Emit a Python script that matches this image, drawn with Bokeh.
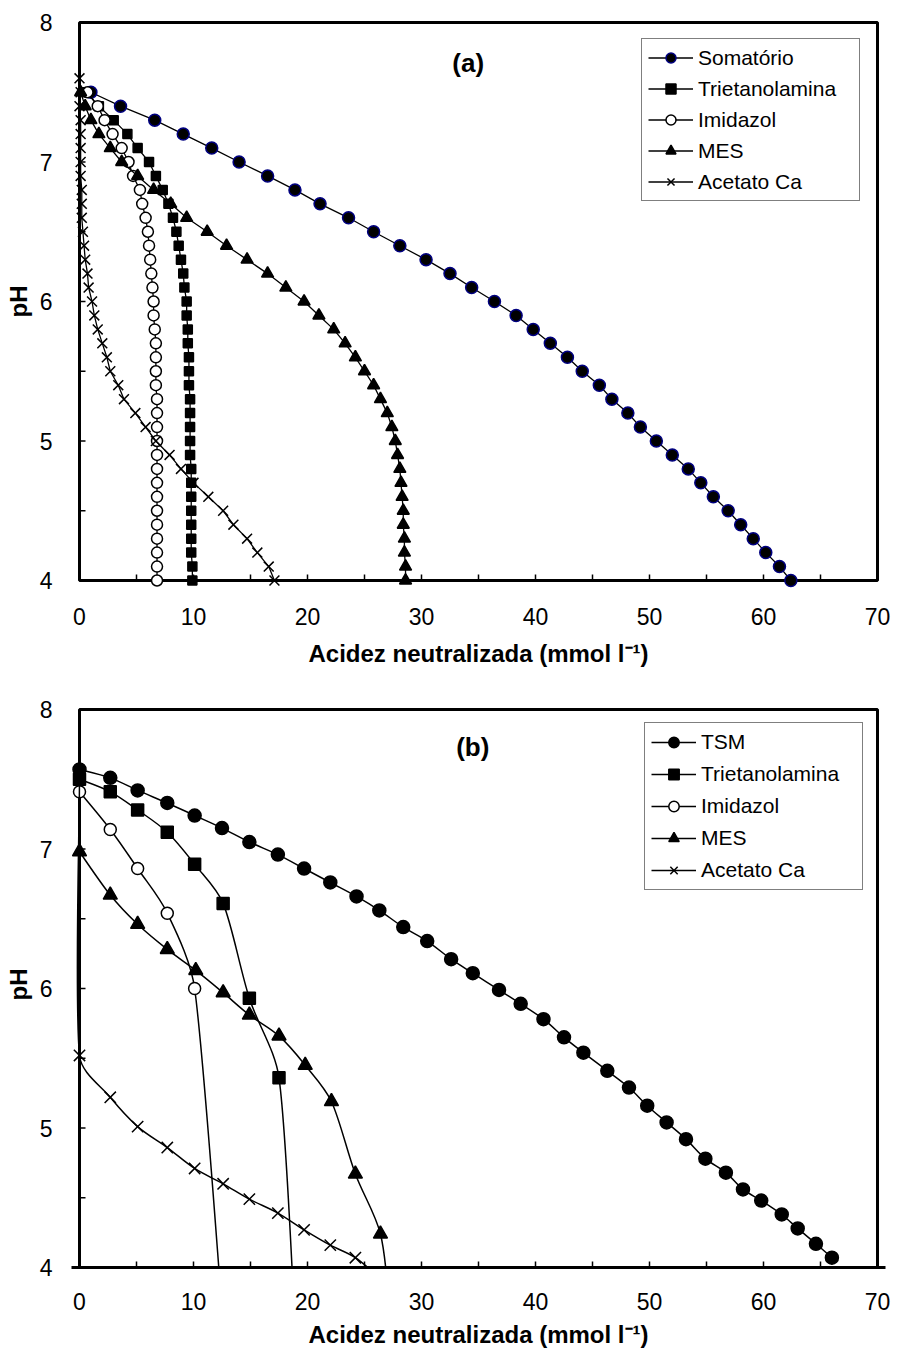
from bokeh.plotting import figure
from bokeh.layouts import column
from bokeh.models import Range1d, Legend, LegendItem, Label, FixedTicker
from bokeh.embed import file_html
from bokeh.resources import INLINE

FONT = "Liberation Sans"

# ---------------- Panel (a): buffers titrated one by one and their sum ----------------
ph_a = [7.5, 7.4, 7.3, 7.2, 7.1, 7.0, 6.9, 6.8, 6.7, 6.6, 6.5, 6.4, 6.3, 6.2, 6.1, 6.0,
        5.9, 5.8, 5.7, 5.6, 5.5, 5.4, 5.3, 5.2, 5.1, 5.0, 4.9, 4.8, 4.7, 4.6, 4.5, 4.4,
        4.3, 4.2, 4.1, 4.0]
somatorio_a = [1.0, 3.6, 6.6, 9.1, 11.6, 14.0, 16.5, 18.9, 21.1, 23.6, 25.8, 28.1, 30.4,
               32.5, 34.4, 36.4, 38.3, 39.8, 41.3, 42.8, 44.1, 45.6, 46.7, 48.1, 49.2,
               50.6, 52.0, 53.4, 54.5, 55.6, 56.9, 58.0, 59.1, 60.2, 61.4, 62.4]
trietanolamina_a = [0.6, 1.7, 3.0, 4.2, 5.1, 6.1, 6.7, 7.3, 7.8, 8.2, 8.5, 8.7, 8.9, 9.1,
                    9.2, 9.4, 9.4, 9.5, 9.5, 9.6, 9.6, 9.6, 9.7, 9.7, 9.7, 9.7, 9.7, 9.8,
                    9.8, 9.8, 9.8, 9.8, 9.8, 9.8, 9.9, 9.9]
imidazol_a = [0.7, 1.6, 2.2, 2.9, 3.7, 4.3, 4.7, 5.3, 5.5, 5.8, 6.0, 6.1, 6.2, 6.3, 6.4,
              6.5, 6.5, 6.6, 6.7, 6.7, 6.7, 6.7, 6.8, 6.8, 6.8, 6.8, 6.8, 6.8, 6.8, 6.8,
              6.8, 6.8, 6.8, 6.8, 6.8, 6.8]
mes_a = [0.1, 0.5, 1.0, 1.7, 2.7, 3.7, 5.1, 6.5, 8.0, 9.4, 11.2, 12.9, 14.7, 16.5, 18.1,
         19.7, 21.0, 22.3, 23.3, 24.2, 25.0, 25.8, 26.4, 27.0, 27.4, 27.7, 27.9, 28.1,
         28.2, 28.3, 28.4, 28.4, 28.5, 28.5, 28.6, 28.6]
ph_acetato_a = [7.6, 7.5, 7.4, 7.3, 7.2, 7.1, 7.0, 6.9, 6.8, 6.7, 6.6, 6.5, 6.4, 6.3, 6.2,
                6.1, 6.0, 5.9, 5.8, 5.7, 5.6, 5.5, 5.4, 5.3, 5.2, 5.1, 5.0, 4.9, 4.8, 4.7,
                4.6, 4.5, 4.4, 4.3, 4.2, 4.1, 4.0]
acetato_a = [0.0, 0.1, 0.0, 0.1, 0.1, 0.1, 0.1, 0.1, 0.2, 0.2, 0.2, 0.3, 0.4, 0.5, 0.7,
             0.8, 1.1, 1.3, 1.6, 2.0, 2.4, 2.7, 3.4, 3.9, 4.9, 5.8, 6.7, 7.9, 8.9, 10.0,
             11.3, 12.6, 13.5, 14.7, 15.6, 16.6, 17.1]

# ---------------- Panel (b): titration of the TSM mixture and its components ----------------
tsm_x = [0.0, 2.7, 5.1, 7.7, 10.1, 12.5, 14.9, 17.4, 19.7, 22.0, 24.3, 26.3, 28.4, 30.5,
         32.6, 34.5, 36.8, 38.7, 40.7, 42.5, 44.2, 46.3, 48.2, 49.8, 51.5, 53.2, 54.9,
         56.7, 58.2, 59.8, 61.6, 63.0, 64.6, 66.0]
tsm_ph = [7.57, 7.51, 7.42, 7.33, 7.24, 7.15, 7.05, 6.96, 6.86, 6.76, 6.66, 6.56, 6.44,
          6.34, 6.21, 6.11, 5.99, 5.89, 5.78, 5.65, 5.54, 5.41, 5.29, 5.16, 5.04, 4.92,
          4.78, 4.68, 4.56, 4.48, 4.38, 4.28, 4.17, 4.07]
trietanolamina_b_x = [0.0, 2.7, 5.1, 7.7, 10.1, 12.6, 14.9, 17.5, 18.9]
trietanolamina_b_ph = [7.50, 7.41, 7.28, 7.12, 6.89, 6.61, 5.93, 5.36, 3.60]
imidazol_b_x = [0.0, 2.7, 5.1, 7.7, 10.1, 12.6]
imidazol_b_ph = [7.41, 7.14, 6.86, 6.54, 6.00, 3.60]
mes_b_x = [0.0, 2.7, 5.1, 7.7, 10.2, 12.6, 14.9, 17.5, 19.8, 22.1, 24.2, 26.4, 27.2]
mes_b_ph = [6.98, 6.67, 6.46, 6.28, 6.13, 5.97, 5.81, 5.66, 5.45, 5.19, 4.67, 4.24, 3.70]
acetato_b_x = [0.0, 0.0, 2.7, 5.1, 7.7, 10.1, 12.6, 14.9, 17.4, 19.7, 22.0, 24.2, 27.0]
acetato_b_ph = [7.50, 5.52, 5.22, 5.01, 4.86, 4.71, 4.60, 4.49, 4.39, 4.27, 4.16, 4.07, 3.88]

# Axis limits and ticks
X_MIN, X_MAX = 0, 70
Y_MIN, Y_MAX = 4, 8
X_TICKS = [0, 10, 20, 30, 40, 50, 60, 70]
X_MINOR = [5, 15, 25, 35, 45, 55, 65]
Y_TICKS = [4, 5, 6, 7, 8]
Y_MINOR = [4.5, 5.5, 6.5, 7.5]

X_LABEL = "Acidez neutralizada (mmol l\u207b\u00b9)"
Y_LABEL = "pH"

BOX_W, BOX_H = 798, 558   # pixel size of the axes box
PAD = 8                   # room around the box so edge markers are not cut
TICK = 6                  # inward tick length, px
UX = (X_MAX - X_MIN) / BOX_W   # data units per pixel
UY = (Y_MAX - Y_MIN) / BOX_H


def make_panel(pad_bottom, border_top, border_bottom, tick_standoff, title_standoff):
    y_lo = Y_MIN - PAD * UY if pad_bottom else Y_MIN
    p = figure(
        frame_width=BOX_W + 2 * PAD,
        frame_height=BOX_H + PAD + (PAD if pad_bottom else 0),
        x_range=Range1d(X_MIN - PAD * UX, X_MAX + PAD * UX),
        y_range=Range1d(y_lo, Y_MAX + PAD * UY),
        output_backend="svg", toolbar_location=None,
        min_border_left=71, min_border_right=13,
        min_border_top=border_top, min_border_bottom=border_bottom,
        background_fill_color="white", border_fill_color="white",
    )
    p.outline_line_color = None
    p.grid.visible = False

    # the axes box
    p.quad(left=[X_MIN], right=[X_MAX], bottom=[Y_MIN], top=[Y_MAX],
           fill_color=None, line_color="black", line_width=3)

    # inward tick marks along the bottom and left sides of the box
    xt = X_TICKS + X_MINOR
    yt = Y_TICKS + Y_MINOR
    p.segment(x0=xt, y0=[Y_MIN] * len(xt), x1=xt, y1=[Y_MIN + TICK * UY] * len(xt),
              line_color="black", line_width=1.5)
    p.segment(x0=[X_MIN] * len(yt), y0=yt, x1=[X_MIN + TICK * UX] * len(yt), y1=yt,
              line_color="black", line_width=1.5)

    xa, ya = p.xaxis[0], p.yaxis[0]
    xa.ticker = FixedTicker(ticks=X_TICKS, minor_ticks=[])
    ya.ticker = FixedTicker(ticks=Y_TICKS, minor_ticks=[])
    for ax in (xa, ya):
        ax.axis_line_color = None
        ax.major_tick_line_color = None
        ax.minor_tick_line_color = None
        ax.major_tick_in = 0
        ax.major_tick_out = 0
        ax.minor_tick_in = 0
        ax.minor_tick_out = 0
        ax.major_label_text_font = FONT
        ax.major_label_text_font_size = "23px"
        ax.major_label_text_color = "black"
        ax.axis_label_text_font = FONT
        ax.axis_label_text_font_size = "24px"
        ax.axis_label_text_font_style = "bold"
        ax.axis_label_text_color = "black"
    xa.axis_label = X_LABEL
    ya.axis_label = Y_LABEL
    xa.major_label_standoff = tick_standoff
    xa.axis_label_standoff = title_standoff
    ya.major_label_standoff = 19
    ya.axis_label_standoff = 5
    if not pad_bottom:
        xa.axis_line_color = "black"
        xa.axis_line_width = 3
    return p


def make_legend(p, items, loc, glyph_h, spacing):
    leg = Legend(items=items, location=loc, orientation="vertical",
                 glyph_width=45, glyph_height=glyph_h, label_height=20,
                 label_width=155, label_standoff=5, spacing=spacing, padding=6,
                 margin=0, border_line_color="black", border_line_width=1.5,
                 background_fill_color="white", background_fill_alpha=1.0,
                 label_text_font=FONT, label_text_font_size="21px",
                 label_text_color="black")
    p.add_layout(leg, "center")


# ---------------- draw panel (a) ----------------
pa = make_panel(True, 14, 92, 19, 12)

series_a = [
    ("Somatório", somatorio_a, ph_a, "circle", 12, "black", "#000080"),
    ("Trietanolamina", trietanolamina_a, ph_a, "square", 9, "black", "black"),
    ("Imidazol", imidazol_a, ph_a, "circle", 11, "white", "black"),
    ("MES", mes_a, ph_a, "triangle", 12, "black", "black"),
    ("Acetato Ca", acetato_a, ph_acetato_a, "x", 14, "black", "black"),
]
items_a = []
for name, xs, ys, marker, size, fill, edge in series_a:
    ln = pa.line(xs, ys, line_color="black", line_width=1.3)
    sc = pa.scatter(xs, ys, marker=marker, size=size, fill_color=fill,
                    line_color=edge, line_width=1.5)
    items_a.append(LegendItem(label=name, renderers=[ln, sc]))
make_legend(pa, items_a, (570, 387), 25, 6)

pa.add_layout(Label(x=34.1, y=7.713, text="(a)", text_font=FONT, text_font_size="26px",
                    text_font_style="bold", text_color="black",
                    text_align="center", text_baseline="middle"))


# ---------------- draw panel (b) ----------------
def smooth(xs, ys):
    """Cubic Bezier pieces of a Catmull-Rom curve through the points.

    Control handles are measured in screen pixels and kept within a third
    of their segment, so sharp turns do not overshoot.
    """
    px = [xs[0]] + list(xs) + [xs[-1]]
    py = [ys[0]] + list(ys) + [ys[-1]]
    seg = dict(x0=[], y0=[], x1=[], y1=[], cx0=[], cy0=[], cx1=[], cy1=[])

    def handle(dx, dy, seg_len):
        hx, hy = dx / 6 / UX, dy / 6 / UY
        h = (hx * hx + hy * hy) ** 0.5
        k = min(1.0, seg_len / 3 / h) if h > 0 else 1.0
        return dx / 6 * k, dy / 6 * k

    for i in range(len(xs) - 1):
        x0, y0 = px[i], py[i]
        x1, y1 = px[i + 1], py[i + 1]
        x2, y2 = px[i + 2], py[i + 2]
        x3, y3 = px[i + 3], py[i + 3]
        seg_len = (((x2 - x1) / UX) ** 2 + ((y2 - y1) / UY) ** 2) ** 0.5
        ax_, ay_ = handle(x2 - x0, y2 - y0, seg_len)
        bx_, by_ = handle(x3 - x1, y3 - y1, seg_len)
        seg["x0"].append(x1); seg["y0"].append(y1)
        seg["x1"].append(x2); seg["y1"].append(y2)
        seg["cx0"].append(x1 + ax_); seg["cy0"].append(y1 + ay_)
        seg["cx1"].append(x2 - bx_); seg["cy1"].append(y2 - by_)
    return seg


pb = make_panel(False, 21, 87, 25, 8)

series_b = [
    ("TSM", tsm_x, tsm_ph, "circle", 13, "black"),
    ("Trietanolamina", trietanolamina_b_x, trietanolamina_b_ph, "square", 12, "black"),
    ("Imidazol", imidazol_b_x, imidazol_b_ph, "circle", 12, "white"),
    ("MES", mes_b_x, mes_b_ph, "triangle", 14, "black"),
    ("Acetato Ca", acetato_b_x, acetato_b_ph, "x", 16, "black"),
]
items_b = []
for name, xs, ys, marker, size, fill in series_b:
    curve = pb.bezier(**smooth(xs, ys), line_color="black", line_width=1.5)
    sc = pb.scatter(xs, ys, marker=marker, size=size, fill_color=fill,
                    line_color="black", line_width=1.5)
    items_b.append(LegendItem(label=name, renderers=[curve, sc]))
make_legend(pb, items_b, (573, 377), 26, 6)

pb.add_layout(Label(x=34.5, y=7.728, text="(b)", text_font=FONT, text_font_size="26px",
                    text_font_style="bold", text_color="black",
                    text_align="center", text_baseline="middle"))

layout = column(pa, pb, spacing=0)
open("out.html", "w").write(file_html(layout, INLINE))
